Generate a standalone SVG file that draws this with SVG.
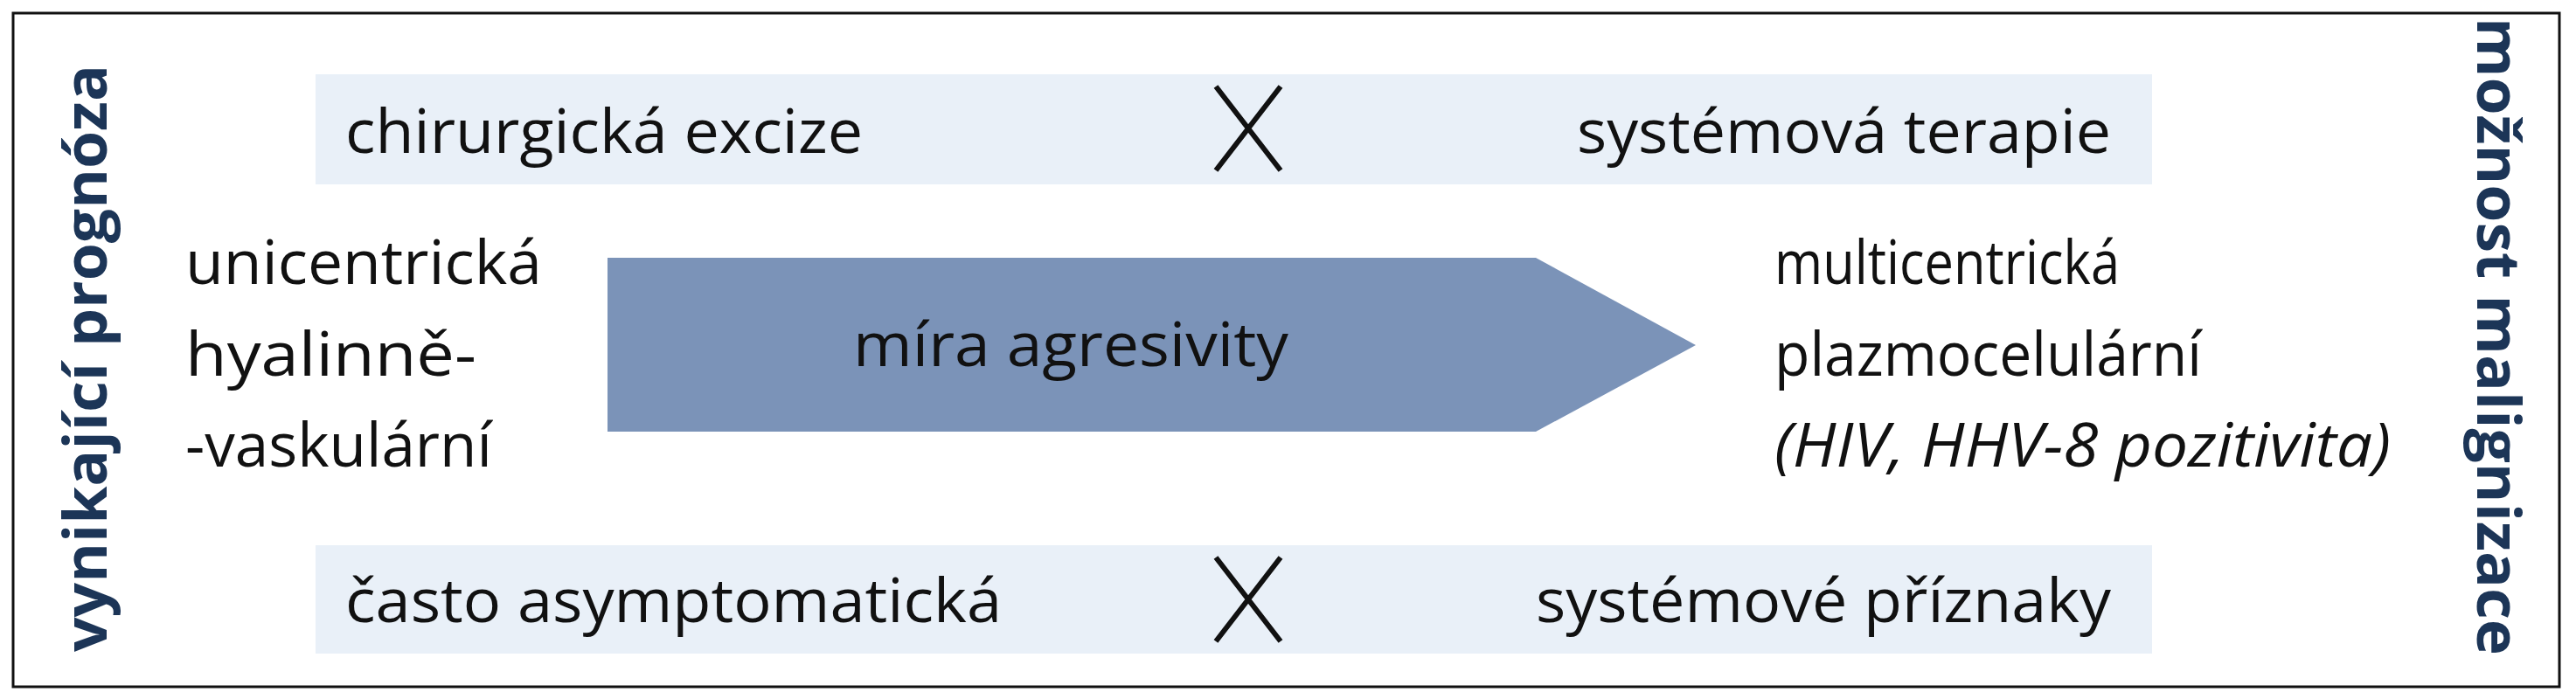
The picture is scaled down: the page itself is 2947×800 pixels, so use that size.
<svg xmlns="http://www.w3.org/2000/svg" width="2947" height="800" viewBox="0 0 2947 800">
<style>
text{font-family:"Open Sans","Liberation Sans",sans-serif;font-size:70px;fill:#111}
.side{font-weight:bold;fill:#1c3557;font-size:68px}
.band{fill:#e9f0f8}
.x{stroke:#111;stroke-width:6;fill:none}
</style>
<rect x="0" y="0" width="2947" height="800" fill="#fff"/>
<rect x="15" y="15" width="2913" height="771" fill="none" stroke="#111" stroke-width="3"/>
<g id="side-left"><text class="side" transform="translate(122,410) rotate(-90)" text-anchor="middle" textLength="672" lengthAdjust="spacingAndGlyphs">vynikající prognóza</text></g>
<g id="side-right"><text class="side" transform="translate(2834,385) rotate(90)" text-anchor="middle" textLength="730" lengthAdjust="spacingAndGlyphs">možnost malignizace</text></g>
<g id="top-band"><rect class="band" x="361" y="85" width="2101" height="126"/>
<text x="395" y="175" textLength="592" lengthAdjust="spacingAndGlyphs">chirurgická excize</text>
<text x="1804" y="175" textLength="611" lengthAdjust="spacingAndGlyphs">systémová terapie</text></g>
<g id="bottom-band"><rect class="band" x="361" y="624" width="2101" height="124"/>
<text x="395" y="712" textLength="751" lengthAdjust="spacingAndGlyphs">často asymptomatická</text>
<text x="1757" y="712" textLength="658" lengthAdjust="spacingAndGlyphs">systémové příznaky</text></g>
<g id="connectors">
<path class="x" d="M1391 99 L1465 195 M1465 99 L1391 195"/>
<path class="x" d="M1391 638 L1465 734 M1465 638 L1391 734"/>
</g>
<g id="arrow"><polygon points="695,295 1757,295 1940,395 1757,494 695,494" fill="#7b93b8"/>
<text x="1225" y="419" text-anchor="middle" textLength="498" lengthAdjust="spacingAndGlyphs">míra agresivity</text></g>
<g id="left-label">
<text x="212" y="325" textLength="408" lengthAdjust="spacingAndGlyphs">unicentrická</text>
<text x="212" y="430" textLength="333" lengthAdjust="spacingAndGlyphs">hyalinně-</text>
<text x="212" y="534" textLength="351" lengthAdjust="spacingAndGlyphs">-vaskulární</text></g>
<g id="right-label">
<text x="2030" y="325" textLength="395" lengthAdjust="spacingAndGlyphs">multicentrická</text>
<text x="2030" y="430" textLength="489" lengthAdjust="spacingAndGlyphs">plazmocelulární</text>
<text x="2030" y="534" font-style="italic" textLength="705" lengthAdjust="spacingAndGlyphs">(HIV, HHV-8 pozitivita)</text></g>
</svg>
